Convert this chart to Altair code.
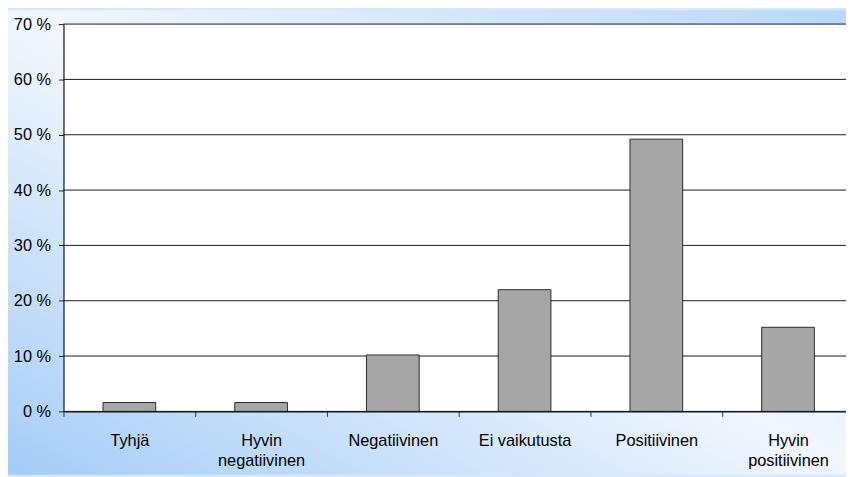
import altair as alt
import pandas as pd

categories = ["Tyhjä", "Hyvin negatiivinen", "Negatiivinen", "Ei vaikutusta", "Positiivinen", "Hyvin positiivinen"]
values = [1.6, 1.6, 10.2, 22.0, 49.2, 15.2]
y_ticks = [0, 10, 20, 30, 40, 50, 60, 70]

bars_df = pd.DataFrame({"Kategoria": categories, "Osuus": values})
grid_df = pd.DataFrame({"tick": y_ticks})
one_df = pd.DataFrame({"a": [0]})

W, H = 790, 391
PAD = {"left": 56, "top": 14, "right": 0, "bottom": 64}
FS = 16.5

yscale = alt.Scale(domain=[0, 70], nice=False)
xscale = alt.Scale(range=[0, 798], paddingInner=0, paddingOuter=0)

yaxis = alt.Axis(
    title=None, values=y_ticks, grid=False, tickSize=5, tickColor="#222",
    domainColor="#111", domainWidth=1.2, labelFontSize=FS, labelColor="#000",
    labelPadding=8, labelFont="Liberation Sans", zindex=1,
    labelExpr="datum.value + ' %'",
)

gradient = alt.LinearGradient(
    gradient="linear",
    x1=0, y1=1, x2=1, y2=0,
    stops=[
        alt.GradientStop(color="#a4ccf7", offset=0),
        alt.GradientStop(color="#f2f7fe", offset=0.5),
        alt.GradientStop(color="#b6d7fb", offset=1),
    ],
)

bg = alt.Chart(one_df).mark_rect(fill=gradient).encode(
    x=alt.value(-PAD["left"]), x2=alt.value(W + 20),
    y=alt.value(-PAD["top"]), y2=alt.value(H + PAD["bottom"]),
)

plot_bg = alt.Chart(one_df).mark_rect(fill="white").encode(
    x=alt.value(0), x2=alt.value(W + 20), y=alt.value(0), y2=alt.value(H),
)

grid = alt.Chart(grid_df).mark_rule(color="#1a1a1a", strokeWidth=1).encode(
    y=alt.Y("tick:Q", scale=yscale, axis=yaxis),
)

bars = alt.Chart(bars_df).mark_bar(
    width=alt.RelativeBandSize(0.4), fill="#a6a6a6", stroke="#2a2a2a", strokeWidth=1
).encode(
    x=alt.X(
        "Kategoria:N", sort=None, scale=xscale,
        axis=alt.Axis(
            title=None, labelAngle=0, tickBand="extent", ticks=True, tickSize=5,
            tickColor="#333", domainColor="#111", domainWidth=1.2, zindex=1,
            labelFontSize=FS, labelColor="#000", labelPadding=16, labelLineHeight=21,
            labelFont="Liberation Sans", grid=False, labelBaseline="top",
            labelExpr="indexof(datum.label, 'Hyvin ') == 0 ? split(datum.label, ' ') : datum.label",
        ),
    ),
    y=alt.Y("Osuus:Q", scale=yscale, axis=yaxis),
)

chart = alt.layer(bg, plot_bg, grid, bars).properties(
    width=W, height=H,
    autosize=alt.AutoSizeParams(type="none"),
    padding=PAD,
).configure_view(stroke=None).configure(background="#d8e8fb")

chart.save("out.html", embed_options={"renderer": "svg", "actions": False})
